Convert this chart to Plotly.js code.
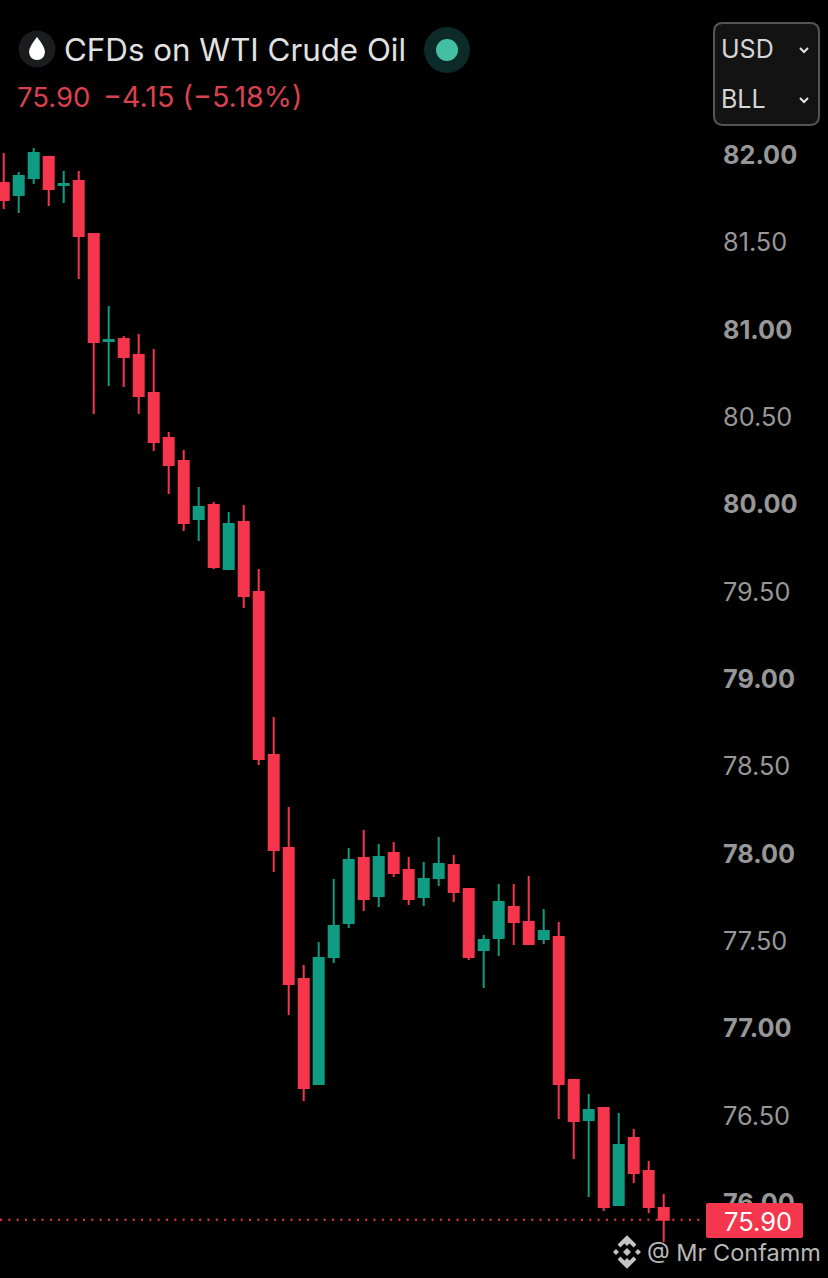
<!DOCTYPE html>
<html><head><meta charset="utf-8">
<script src="https://cdn.plot.ly/plotly-3.0.1.min.js"></script>
<style>html,body{margin:0;padding:0;background:#000;overflow:hidden}#c{width:828px;height:1278px}</style>
</head><body><div id="c"></div>
<script>
const W=828,H=1278;
const bars=[0,1,2,3,4,5,6,7,8,9,10,11,12,13,14,15,16,17,18,19,20,21,22,23,24,25,26,27,28,29,30,31,32,33,34,35,36,37,38,39,40,41,42,43,44];
const opens=[81.834,81.765,81.863,81.983,81.823,81.845,81.542,80.930,80.941,80.849,80.632,80.374,80.243,79.911,79.991,79.625,79.894,79.493,78.560,78.028,77.278,76.677,77.404,77.598,77.970,77.753,77.999,77.902,77.747,77.856,77.930,77.793,77.444,77.512,77.690,77.604,77.507,77.518,76.700,76.471,76.539,75.984,76.368,76.179,75.967];
const highs=[82.006,81.897,82.034,81.990,81.903,81.903,81.542,81.130,80.958,80.970,80.884,80.409,80.306,80.094,80.008,79.951,79.991,79.625,78.777,78.262,77.358,77.489,77.850,78.028,78.131,78.050,78.062,77.976,77.947,78.091,77.987,77.793,77.530,77.821,77.821,77.867,77.678,77.604,76.706,76.619,76.545,76.511,76.419,76.236,76.047];
const lows=[81.685,81.662,81.828,81.702,81.720,81.284,80.512,80.672,80.666,80.512,80.300,80.054,79.842,79.785,79.625,79.625,79.401,78.503,77.890,77.072,76.579,76.671,77.369,77.570,77.667,77.690,77.862,77.701,77.696,77.810,77.718,77.386,77.226,77.409,77.472,77.472,77.478,76.476,76.247,76.030,75.950,75.978,76.110,75.938,75.772];
const closes=[81.737,81.874,82.006,81.800,81.828,81.531,80.924,80.935,80.838,80.615,80.351,80.220,79.888,79.979,79.636,79.882,79.470,78.537,78.016,77.249,76.654,77.398,77.581,77.959,77.736,77.976,77.884,77.736,77.850,77.936,77.776,77.404,77.501,77.718,77.604,77.478,77.552,76.677,76.465,76.528,75.973,76.328,76.167,75.973,75.900];
const tickVals=[82,81.5,81,80.5,80,79.5,79,78.5,78,77.5,77,76.5,76];
const tickText=['<b>82.00</b>','81.50','<b>81.00</b>','80.50','<b>80.00</b>','79.50','<b>79.00</b>','78.50','<b>78.00</b>','77.50','<b>77.00</b>','76.50','<b>76.00</b>'];
const lastPrice=75.90;
const UP='#0f9c83',DOWN='#f5364c';
const FONT='Inter, Roboto, sans-serif';
const px=x=>x/W, py=y=>1-y/H;
const P=(x,y)=>px(x).toFixed(5)+','+py(y).toFixed(5);
const ps=(o)=>Object.assign({xref:'paper',yref:'paper'},o);
const circle=(cx,cy,r,fill)=>ps({type:'circle',x0:px(cx-r),x1:px(cx+r),y0:py(cy+r),y1:py(cy-r),fillcolor:fill,line:{width:0}});
const path=(d,fill,line)=>ps({type:'path',path:d,fillcolor:fill,line:line||{width:0}});
const rrect=(x0,y0,x1,y1,r)=>'M'+P(x0+r,y0)+'L'+P(x1-r,y0)+'Q'+P(x1,y0)+' '+P(x1,y0+r)+'L'+P(x1,y1-r)+'Q'+P(x1,y1)+' '+P(x1-r,y1)+'L'+P(x0+r,y1)+'Q'+P(x0,y1)+' '+P(x0,y1-r)+'L'+P(x0,y0+r)+'Q'+P(x0,y0)+' '+P(x0+r,y0)+'Z';
const chevron=(cx,cy)=>path('M'+P(cx-4,cy-2)+'L'+P(cx,cy+2)+'L'+P(cx+4,cy-2),'rgba(0,0,0,0)',{color:'#e4e4e4',width:2});
const diamond=(cx,cy,r)=>'M'+P(cx,cy-r)+'L'+P(cx+r,cy)+'L'+P(cx,cy+r)+'L'+P(cx-r,cy)+'Z';
const shapes=[
 ps({type:'line',x0:0,x1:px(705),y0:lastPrice,y1:lastPrice,yref:'y',line:{color:'#f5364c',width:2,dash:'2px,6.3px'}}),
 path(rrect(706,1203,803,1238,2),'#f5364c'),
 circle(37,49,18.5,'#1b1c1e'),
 path('M'+P(37,37)+'Q'+P(45,47)+' '+P(45,52)+'Q'+P(44,60)+' '+P(37,60)+'Q'+P(30,60)+' '+P(29,52)+'Q'+P(29,47)+' '+P(37,37)+'Z','#ffffff'),
 circle(447,50,23,'#0c2a27'),
 circle(447,50,11,'#43bfa3'),
 path(rrect(714,23,819,125,9),'#131313',{color:'#555555',width:2}),
 chevron(804,50),chevron(804,100),
 path(diamond(627,1241,5)+diamond(627,1252,4)+diamond(627,1263,5),'#c4c4c4'),
 path(diamond(616,1252,3)+diamond(638,1252,3),'#c4c4c4'),
 path('M'+P(619,1246)+'L'+P(627,1238)+'L'+P(635,1246)+'M'+P(619,1258)+'L'+P(627,1266)+'L'+P(635,1258),'rgba(0,0,0,0)',{color:'#c4c4c4',width:4})
];
const ann=(text,x,y,size,color,extra)=>Object.assign({xref:'paper',yref:'paper',x:px(x),y:py(y),xanchor:'left',yanchor:'middle',showarrow:false,text:text,font:{family:FONT,size:size,color:color},borderpad:0},extra||{});
const annotations=[
 ann('75.90',16,97,27.5,'#d8424f'),
 ann('−4.15 (−5.18%)',102,97,28.7,'#d8424f'),
 ann('USD',720,49,25,'#d6d6d6'),
 ann('BLL',720,99,25,'#d6d6d6'),
 ann('@ Mr Confamm',646,1252,23.5,'#b8b8b8'),
 ann('75.90',723,1221,25.5,'#ffffff')
];
const trace={type:'candlestick',x:bars,open:opens,high:highs,low:lows,close:closes,whiskerwidth:0,
 increasing:{line:{color:UP,width:2},fillcolor:UP},decreasing:{line:{color:DOWN,width:2},fillcolor:DOWN},hoverinfo:'skip',showlegend:false};
const AX=722;
const layout={width:W,height:H,margin:{l:0,r:0,t:0,b:0,pad:0},paper_bgcolor:'#000',plot_bgcolor:'#000',boxgap:0.333,boxgroupgap:0,showlegend:false,
 title:{text:'CFDs on WTI Crude Oil',x:px(64),xanchor:'left',xref:'paper',y:py(50),yanchor:'middle',yref:'container',font:{family:FONT,size:31.3,color:'#e2e2e2'}},
 xaxis:{domain:[0,AX/W],range:[-3.7/15,(AX-3.7)/15],visible:false,rangeslider:{visible:false},fixedrange:true},
 yaxis:{side:'right',range:[82-(H-154)/174.7,82+154/174.7],tickmode:'array',tickvals:tickVals,ticktext:tickText,ticklabelposition:'outside',ticklabelshift:1,ticks:'',showgrid:false,zeroline:false,showline:false,
  tickfont:{family:FONT,size:25.3,color:'#979797'},fixedrange:true},
 shapes:shapes,annotations:annotations};
Plotly.newPlot('c',[trace],layout,{displayModeBar:false,staticPlot:true});
</script></body></html>
